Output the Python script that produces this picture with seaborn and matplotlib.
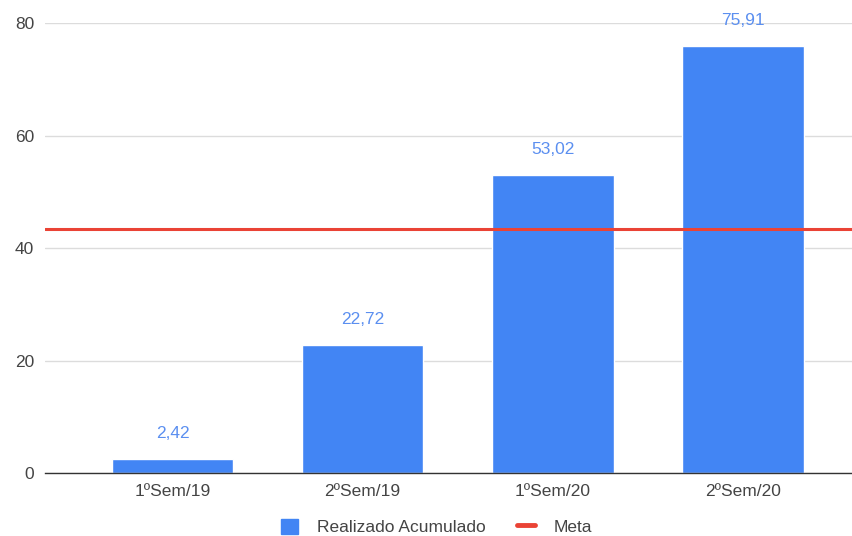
import matplotlib
matplotlib.use("Agg")
import matplotlib.pyplot as plt
import pandas as pd
import seaborn as sns
from matplotlib.lines import Line2D
from matplotlib.patches import Patch

semestres = ["1ºSem/19", "2ºSem/19", "1ºSem/20", "2ºSem/20"]
realizado = [2.42, 22.72, 53.02, 75.91]
meta = 43.4
y_ticks = [0, 20, 40, 60, 80]

BLUE = "#4285F4"
RED = "#EA4335"

sns.set_style("white")
plt.rcParams["font.family"] = ["Liberation Sans", "DejaVu Sans"]

df = pd.DataFrame({"Semestre": semestres, "Realizado": realizado})

fig = plt.figure(figsize=(8.53, 5.36), dpi=100)
ax = fig.add_axes([0.053, 0.1175, 0.947, 0.8395])

sns.barplot(data=df, x="Semestre", y="Realizado", color=BLUE, width=0.64,
            saturation=1, ax=ax, zorder=2)
ax.axhline(meta, color=RED, lw=2.2, zorder=3)

labels = [f"{v:.2f}".replace(".", ",") for v in realizado]
ax.bar_label(ax.containers[0], labels=labels, padding=13, color="#5B8FF0",
             fontsize=12.5, clip_on=False)

ax.set_ylim(0, 80)
ax.set_xlim(-0.67, 3.58)
ax.set_yticks(y_ticks)
ax.yaxis.grid(True, color="#dcdcdc", lw=1)
ax.set_axisbelow(True)
ax.set_xlabel("")
ax.set_ylabel("")
for s in ["top", "right", "left"]:
    ax.spines[s].set_visible(False)
ax.spines["bottom"].set_color("#333333")
ax.spines["bottom"].set_linewidth(1)
ax.tick_params(axis="both", length=0, labelsize=12.5, labelcolor="#444444")
ax.tick_params(axis="x", pad=8)
ax.tick_params(axis="y", pad=8)

handles = [Patch(facecolor=BLUE, edgecolor=BLUE),
           Line2D([0], [0], color=RED, lw=3.5)]
fig.legend(handles, ["Realizado Acumulado", "Meta"], loc="center",
           bbox_to_anchor=(0.512, 0.017), ncol=2, frameon=False,
           fontsize=12.5, labelcolor="#444444", handlelength=1.0,
           handleheight=1.0, columnspacing=1.8, handletextpad=1.1)

fig.savefig("out.png", dpi=100)
plt.close(fig)
